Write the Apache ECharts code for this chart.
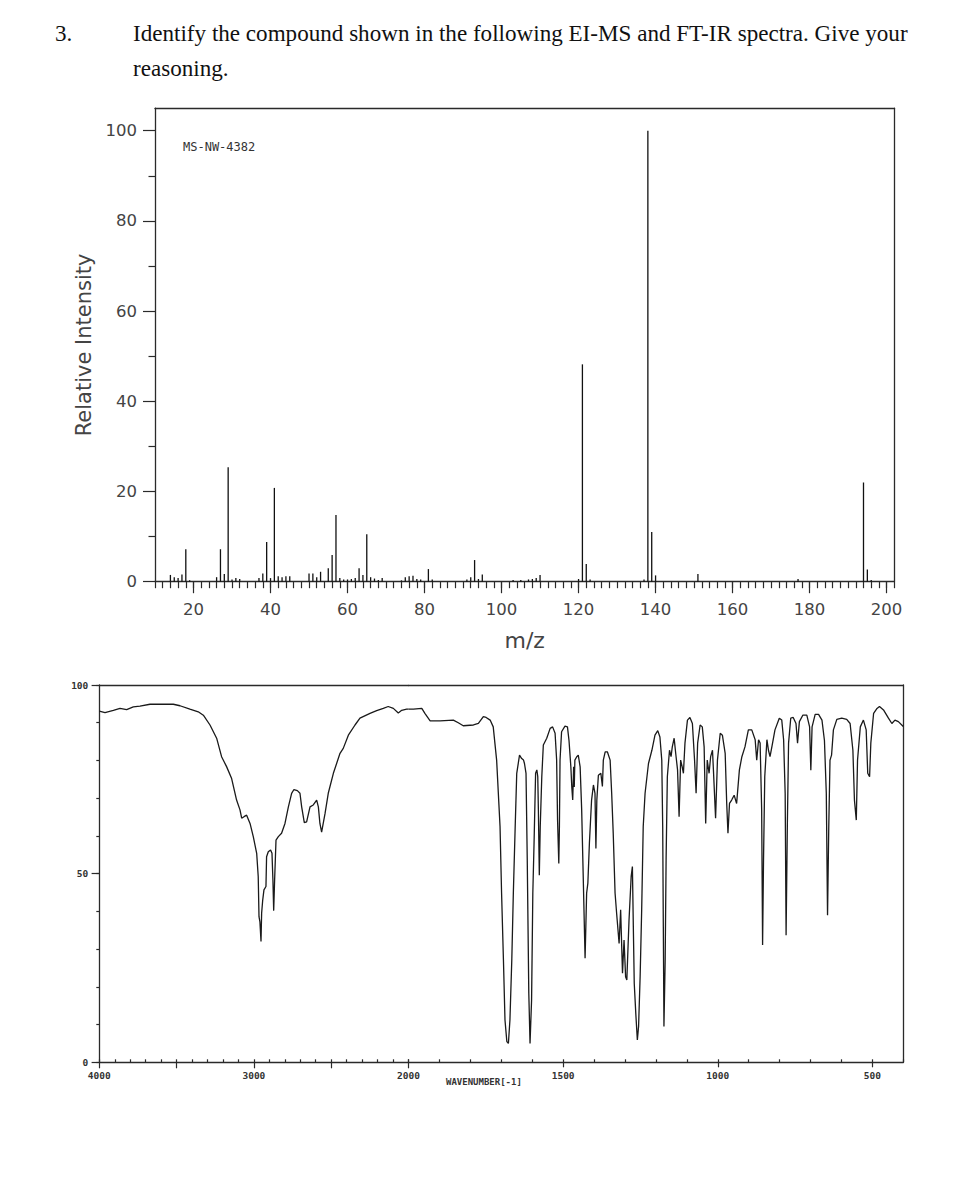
<!DOCTYPE html>
<html><head><meta charset="utf-8">
<script src="https://cdn.jsdelivr.net/npm/echarts@6/dist/echarts.min.js"></script>
<style>html,body{margin:0;padding:0;background:#fff}#c{width:960px;height:1200px}</style>
</head><body><div id="c"></div>
<script>
// ---------- EI-MS data ----------
const msMz = [14,15,16,17,18,19,26,27,28,29,30,31,32,37,38,39,40,41,42,43,44,45,50,51,52,53,55,56,57,58,59,60,61,62,63,64,65,66,67,68,69,74,75,76,77,78,79,81,82,91,92,93,94,95,103,105,107,108,109,110,120,121,122,123,137,138,139,140,151,177,194,195,196];
const msIntensity = [1.5,1.0,0.8,1.6,7.2,0.3,1.0,7.2,1.7,25.4,0.5,0.8,0.6,0.8,1.8,8.8,0.8,20.8,1.2,1.0,1.2,1.2,1.8,1.8,1.0,2.2,3.0,5.9,14.8,0.8,0.5,0.5,0.6,0.8,3.0,1.5,10.5,1.0,0.7,0.4,0.8,0.3,1.0,1.2,1.3,0.6,0.5,2.8,0.5,0.5,1.0,4.8,0.6,1.6,0.4,0.4,0.5,0.6,0.8,1.5,0.6,48.2,3.9,0.5,0.5,100,11.0,1.4,1.7,0.6,22.0,2.7,0.4];
const msXLabels = [20,40,60,80,100,120,140,160,180,200];
const msYLabels = [0,20,40,60,80,100];
const msYMinor = [10,30,50,70,90];

// ---------- FT-IR data ----------
const irWavenumber = [4000,3963,3909,3866,3823,3780,3737,3672,3608,3521,3478,3414,3360,3327,3284,3241,3209,3176,3144,3112,3090,3079,3064,3047,3025,3004,2982,2972,2967,2961,2954,2950,2943,2935,2922,2918,2907,2892,2883,2877,2872,2866,2857,2842,2821,2799,2777,2756,2741,2719,2702,2691,2674,2659,2637,2616,2594,2583,2573,2562,2540,2519,2486,2443,2422,2389,2346,2314,2249,2206,2163,2131,2098,2066,2044,2012,2000,1984,1957,1947,1930,1898,1855,1839,1823,1790,1774,1758,1749,1736,1726,1715,1704,1699,1693,1688,1682,1677,1672,1666,1661,1655,1650,1641,1634,1628,1625,1620,1616,1611,1607,1602,1598,1594,1589,1585,1582,1580,1577,1574,1569,1564,1553,1542,1534,1526,1521,1518,1514,1512,1510,1505,1494,1486,1481,1475,1472,1469,1466,1464,1462,1456,1451,1445,1440,1435,1429,1424,1420,1415,1408,1402,1397,1394,1391,1386,1378,1373,1370,1364,1357,1348,1343,1338,1332,1327,1319,1314,1308,1303,1298,1294,1287,1280,1276,1273,1270,1265,1260,1256,1251,1246,1241,1235,1224,1213,1203,1194,1187,1181,1178,1176,1174,1170,1167,1163,1156,1151,1147,1141,1136,1130,1125,1120,1115,1111,1106,1098,1090,1082,1075,1070,1065,1057,1050,1044,1039,1034,1028,1023,1017,1014,1007,1001,992,985,976,971,967,962,955,947,939,930,922,912,901,890,879,874,868,863,858,855,852,848,841,836,831,825,815,801,793,787,782,779,775,771,764,756,747,742,736,725,712,703,699,695,685,674,663,655,649,645,641,637,632,626,615,599,583,572,563,558,552,548,539,529,520,515,509,505,496,485,477,464,448,437,427,416,400];
const irTransmittance = [93.1,92.7,93.3,93.8,93.5,94.2,94.4,94.9,94.9,94.9,94.5,93.6,92.9,92.0,89.4,85.9,81.0,78.3,75.2,69.5,66.9,64.7,65.1,65.5,63.3,59.8,55.4,49.2,38.6,37.2,32.0,39.5,43.0,45.7,46.6,54.5,55.8,56.3,55.4,48.3,40.2,48.3,58.9,59.8,60.7,63.3,67.7,71.3,72.3,72.0,71.3,67.7,63.5,63.7,67.7,68.2,69.5,67.7,63.3,61.0,65.9,71.3,76.6,81.9,83.2,86.7,89.4,91.2,92.5,93.2,93.8,94.3,93.8,92.6,93.3,93.6,93.6,93.6,93.8,92.5,90.5,90.5,90.7,90.0,89.2,89.4,89.8,91.6,91.4,90.7,88.9,80.1,62.5,44.8,27.1,11.2,5.5,5.0,11.2,27.1,44.8,62.5,76.6,81.4,80.5,80.1,79.2,76.6,53.6,18.3,5.0,16.5,44.8,58.1,76.6,77.5,75.7,66.9,49.6,62.5,75.7,84.1,85.9,88.5,88.9,87.2,80.1,64.2,52.7,62.5,80.1,87.6,89.1,88.9,85.3,78.3,73.0,69.5,78.3,73.0,80.1,81.0,81.4,78.3,66.9,49.2,27.6,44.8,47.5,58.1,69.5,73.5,71.3,56.7,69.5,76.1,76.6,73.1,80.1,82.3,82.3,80.1,71.3,60.7,44.8,39.5,31.5,40.4,23.6,32.4,22.7,21.8,37.5,49.2,51.9,36.0,20.9,12.9,5.9,9.5,22.7,40.4,62.5,71.3,79.2,82.7,86.7,87.9,86.2,80.1,62.5,36.0,9.5,27.1,53.9,75.7,82.7,81.0,83.6,85.9,81.9,77.5,65.1,80.1,78.3,76.6,84.6,90.7,91.4,89.8,80.1,71.3,84.6,89.4,88.9,83.6,63.3,80.1,76.6,81.0,82.7,77.5,64.7,80.1,87.2,86.7,81.9,68.6,60.7,68.6,69.5,70.8,68.6,77.5,81.0,83.6,88.1,88.1,85.5,80.1,85.5,84.6,66.9,31.1,53.6,75.7,85.5,82.7,81.0,83.6,88.1,91.2,90.7,85.5,71.3,33.7,62.5,84.6,91.2,91.4,89.8,84.6,90.3,92.0,92.0,88.9,77.4,88.9,92.2,92.2,90.7,85.3,71.3,39.0,62.5,80.1,81.4,88.1,90.9,91.2,90.9,89.8,82.7,69.5,64.2,80.1,88.9,90.7,88.1,76.6,75.7,84.6,92.5,93.8,94.3,93.4,91.2,89.8,90.7,90.3,89.0];
const irXLabelsLeft = [4000,3000,2000];
const irXMajorLeft = [2000,2500,3000,3500,4000];
const irXLabelsRight = [1500,1000,500];
const irYLabels = [0,50,100];

// ---------- styles ----------
const AX = '#2a2a2a';
const axLine = {onZero:false, lineStyle:{color:AX, width:1.3}};
const noLine = {show:false, onZero:false};
const plain = v => String(v);
const msFont = {fontFamily:'DejaVu Sans', fontSize:16.5, color:'#444', formatter:plain};
const irFont = {fontFamily:'DejaVu Sans Mono', fontSize:9.5, fontWeight:'bold', color:'#333', formatter:plain};
const titleFont = {fontFamily:'Liberation Serif', fontSize:23.1, fontWeight:'normal', color:'#111'};

const msData = msMz.map((m,i)=>[m, msIntensity[i]]);
const irAll = irWavenumber.map((w,i)=>[w, irTransmittance[i]]);
const irLeft = irAll.filter(p=>p[0]>=2000);
const irRight = irAll.filter(p=>p[0]<=2000);

const G0 = {left:155, top:108.2, width:739.3, height:473.5};
const G1 = {left:99.3, top:685, width:309.2, height:377.3};
const G2 = {left:408.5, top:685, width:494.8, height:377.3};

const chart = echarts.init(document.getElementById('c'), null, {renderer:'svg', width:960, height:1200});
chart.setOption({
  animation:false,
  backgroundColor:'#fff',
  title:[
    {text:'3.', left:55, top:21, padding:0, textStyle:titleFont},
    {text:'Identify the compound shown in the following EI-MS and FT-IR spectra. Give your', left:133, top:21, padding:0, textStyle:titleFont},
    {text:'reasoning.', left:133, top:56, padding:0, textStyle:titleFont},
    {text:'MS-NW-4382', left:183, top:141, padding:0, textStyle:{fontFamily:'DejaVu Sans Mono', fontSize:12, fontWeight:'normal', color:'#333'}},
    {text:'WAVENUMBER[-1]', left:446, top:1077, padding:0, textStyle:{fontFamily:'DejaVu Sans Mono', fontSize:9, fontWeight:'bold', color:'#333'}}
  ],
  grid:[
    Object.assign({containLabel:false}, G0),
    Object.assign({containLabel:false}, G1),
    Object.assign({containLabel:false}, G2)
  ],
  xAxis:[
    {gridIndex:0, type:'value', position:'bottom', min:10, max:202, interval:2, axisLine:axLine,
     axisTick:{length:6.5, lineStyle:{color:AX, width:1.2}}, axisLabel:{show:false}, splitLine:{show:false}},
    {gridIndex:0, type:'value', position:'bottom', min:10, max:202, axisLine:noLine,
     axisTick:{customValues:msXLabels, length:11.5, lineStyle:{color:AX, width:1.2}},
     axisLabel:Object.assign({customValues:msXLabels, margin:19}, msFont), splitLine:{show:false},
     name:'m/z', nameLocation:'middle', nameGap:48, nameTextStyle:{fontFamily:'DejaVu Sans', fontSize:22, color:'#444'}},
    {gridIndex:0, type:'value', position:'top', min:10, max:202, axisLine:axLine, axisTick:{show:false}, axisLabel:{show:false}, splitLine:{show:false}},

    {gridIndex:1, type:'value', position:'bottom', inverse:true, min:2000, max:4000, interval:100, axisLine:axLine,
     axisTick:{inside:true, length:3, lineStyle:{color:AX, width:1.2}}, axisLabel:{show:false}, splitLine:{show:false}},
    {gridIndex:1, type:'value', position:'bottom', inverse:true, min:2000, max:4000, axisLine:noLine,
     axisTick:{customValues:irXMajorLeft, length:6, lineStyle:{color:AX, width:1.2}},
     axisLabel:Object.assign({customValues:irXLabelsLeft, margin:8}, irFont), splitLine:{show:false}},
    {gridIndex:1, type:'value', position:'top', inverse:true, min:2000, max:4000, axisLine:axLine, axisTick:{show:false}, axisLabel:{show:false}, splitLine:{show:false}},

    {gridIndex:2, type:'value', position:'bottom', inverse:true, min:400, max:2000, interval:100, axisLine:axLine,
     axisTick:{inside:true, length:3, lineStyle:{color:AX, width:1.2}}, axisLabel:{show:false}, splitLine:{show:false}},
    {gridIndex:2, type:'value', position:'bottom', inverse:true, min:400, max:2000, axisLine:noLine,
     axisTick:{customValues:irXLabelsRight, length:5, lineStyle:{color:AX, width:1.2}},
     axisLabel:Object.assign({customValues:irXLabelsRight, margin:8}, irFont), splitLine:{show:false}},
    {gridIndex:2, type:'value', position:'top', inverse:true, min:400, max:2000, axisLine:axLine, axisTick:{show:false}, axisLabel:{show:false}, splitLine:{show:false}}
  ],
  yAxis:[
    {gridIndex:0, type:'value', position:'left', min:0, max:105, axisLine:axLine,
     axisTick:{customValues:msYLabels, length:12, lineStyle:{color:AX, width:1.2}},
     axisLabel:Object.assign({customValues:msYLabels, margin:18}, msFont), splitLine:{show:false},
     name:'Relative Intensity', nameLocation:'middle', nameGap:54, nameRotate:90,
     nameTextStyle:{fontFamily:'DejaVu Sans', fontSize:21, color:'#444'}},
    {gridIndex:0, type:'value', position:'left', min:0, max:105, axisLine:noLine,
     axisTick:{customValues:msYMinor, length:6.5, lineStyle:{color:AX, width:1.2}}, axisLabel:{show:false}, splitLine:{show:false}},
    {gridIndex:0, type:'value', position:'right', min:0, max:105, axisLine:axLine, axisTick:{show:false}, axisLabel:{show:false}, splitLine:{show:false}},

    {gridIndex:1, type:'value', position:'left', min:0, max:100, interval:10, axisLine:axLine,
     axisTick:{length:3, lineStyle:{color:AX, width:1.2}}, axisLabel:{show:false}, splitLine:{show:false}},
    {gridIndex:1, type:'value', position:'left', min:0, max:100, axisLine:noLine,
     axisTick:{customValues:irYLabels, length:7.7, lineStyle:{color:AX, width:1.2}},
     axisLabel:Object.assign({customValues:irYLabels, margin:11}, irFont), splitLine:{show:false}},
    {gridIndex:2, type:'value', position:'right', min:0, max:100, axisLine:axLine, axisTick:{show:false}, axisLabel:{show:false}, splitLine:{show:false}}
  ],
  series:[
    {type:'bar', xAxisIndex:0, yAxisIndex:0, data:msData, barWidth:1.3, silent:true,
     itemStyle:{color:'#111'}},
    {type:'line', xAxisIndex:3, yAxisIndex:3, data:irLeft, showSymbol:false, silent:true,
     lineStyle:{color:'#1a1a1a', width:1.3}},
    {type:'line', xAxisIndex:6, yAxisIndex:5, data:irRight, showSymbol:false, silent:true,
     lineStyle:{color:'#1a1a1a', width:1.3}}
  ]
});
</script></body></html>
